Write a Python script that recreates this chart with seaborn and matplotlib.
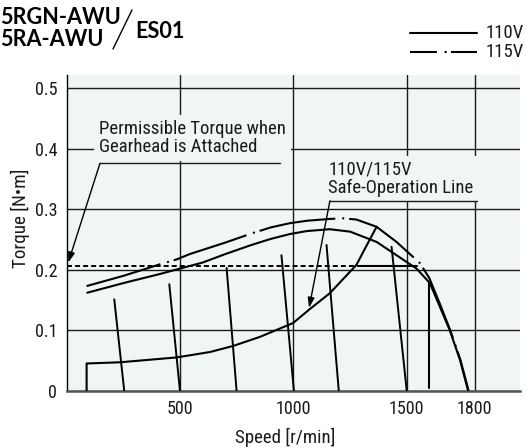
import matplotlib
matplotlib.use("Agg")
import matplotlib.pyplot as plt
import seaborn as sns
import pandas as pd
from matplotlib.lines import Line2D
from matplotlib import font_manager

# ---- data ----
speed_110 = [90, 250, 411, 500, 600, 700, 815, 900, 984, 1060, 1160, 1250, 1367, 1455, 1543, 1602, 1646, 1690, 1735, 1771]
torque_110 = [0.162, 0.178, 0.193, 0.202, 0.212, 0.226, 0.241, 0.251, 0.259, 0.264, 0.267, 0.263, 0.246, 0.224, 0.202, 0.178, 0.139, 0.100, 0.051, 0.0]

speed_115 = [87, 250, 411, 484, 543, 700, 815, 900, 984, 1060, 1160, 1219, 1278, 1367, 1455, 1558, 1600, 1648, 1692, 1737, 1773]
torque_115 = [0.173, 0.190, 0.209, 0.217, 0.226, 0.245, 0.260, 0.270, 0.277, 0.281, 0.284, 0.285, 0.283, 0.271, 0.246, 0.211, 0.186, 0.142, 0.100, 0.051, 0.0]

safe_speed = [87, 87, 235, 484, 632, 734, 852, 999, 1069, 1160, 1278, 1320, 1367]
safe_torque = [0.0, 0.045, 0.047, 0.055, 0.064, 0.074, 0.089, 0.112, 0.134, 0.161, 0.208, 0.238, 0.271]
safe_flat_speed = [1283, 1545]
safe_cut_speed = [1597, 1597]
safe_cut_torque = [0.004, 0.180]

permissible_torque = 0.206
permissible_speed = [0, 1283]

load_top_speed = [209, 452, 705, 947, 1146, 1433]
load_top_torque = [0.151, 0.176, 0.203, 0.224, 0.241, 0.238]
load_bot_speed = [253, 499, 749, 1002, 1200, 1500]

x_ticks = [500, 1000, 1500, 1800]
x_tick_labels = ["500", "1000", "1500", "1800"]
y_ticks = [0, 0.1, 0.2, 0.3, 0.4, 0.5]
y_tick_labels = ["0", "0.1", "0.2", "0.3", "0.4", "0.5"]

# ---- style ----
sns.set_theme(style="white")
avail = {(f.name, str(f.stretch)) for f in font_manager.fontManager.ttflist}
names = {n for n, s in avail}
STRETCH = "normal"
if "Liberation Sans Narrow" in names:
    FAM = ["Liberation Sans Narrow", "DejaVu Sans"]
elif "Roboto Condensed" in names:
    FAM = ["Roboto Condensed", "DejaVu Sans"]
elif any(n == "DejaVu Sans" and s in ("condensed", "semi-condensed") for n, s in avail):
    FAM = ["DejaVu Sans"]
    STRETCH = "condensed"
else:
    FAM = ["Liberation Sans", "DejaVu Sans"]
plt.rcParams["font.family"] = FAM
plt.rcParams["font.stretch"] = STRETCH
plt.rcParams["lines.scale_dashes"] = False

BG = "#f0f6f4"
DASHDOT = (0, (55.4, 5.0, 1.4, 3.6))

W, H = 525, 448
fig = plt.figure(figsize=(W / 100, H / 100), dpi=100)
renderer = fig.canvas.get_renderer()


def text_width(s, size, **kw):
    t = fig.text(0, 0, s, fontsize=size, **kw)
    w = t.get_window_extent(renderer).width
    t.remove()
    return w


FS = 10 * 186 / text_width("Permissible Torque when", 10)
FS_TICK = 10 * 35 / text_width("1000", 10)
FS_LAB = 10 * 100 / text_width("Speed [r/min]", 10)
FS_YLAB = 10 * 100 / text_width("Torque [N•m]", 10)
tfont = dict(family=["Lato", "DejaVu Sans"], weight="bold", color="black")
TFS = 10 * 121 / text_width("5RGN-AWU", 10, **tfont)

x0, x1, ytop, ybot = 66.9, 520, 75, 390.7
ax = fig.add_axes([x0 / W, 1 - ybot / H, (x1 - x0) / W, (ybot - ytop) / H])
ax.set_facecolor(BG)
ax.set_xlim(0, 2000)
ax.set_ylim(0, 0.522)

lw = 1.5
df110 = pd.DataFrame({"speed": speed_110, "torque": torque_110})
df115 = pd.DataFrame({"speed": speed_115, "torque": torque_115})
dfsafe = pd.DataFrame({"speed": safe_speed, "torque": safe_torque})

sns.lineplot(data=df110, x="speed", y="torque", ax=ax, color="black", lw=lw, sort=False, estimator=None, zorder=4)
sns.lineplot(data=df115, x="speed", y="torque", ax=ax, color="black", lw=lw, sort=False, estimator=None,
             linestyle=DASHDOT, zorder=4)
sns.lineplot(data=dfsafe, x="speed", y="torque", ax=ax, color="black", lw=lw, sort=False, estimator=None, zorder=4)
ax.plot(safe_flat_speed, [permissible_torque] * 2, color="black", lw=lw, zorder=4)
ax.plot(safe_cut_speed, safe_cut_torque, color="black", lw=lw, zorder=4)
ax.plot(permissible_speed, [permissible_torque] * 2, color="black", lw=1.4,
        linestyle=(0, (3.6, 2.2)), zorder=4)

for ts, tt, bs in zip(load_top_speed, load_top_torque, load_bot_speed):
    ax.plot([ts, bs], [tt, 0], color="black", lw=1.4, zorder=4)

# grid / axes
ax.set_xticks(x_ticks)
ax.set_xticklabels(x_tick_labels)
ax.set_yticks(y_ticks)
ax.set_yticklabels(y_tick_labels)
ax.grid(True, color="#1a1a1a", lw=1.0)
ax.set_axisbelow(True)
ax.tick_params(length=0, labelsize=FS_TICK, colors="#1a1a1a", pad=7)
for s in ["top", "right"]:
    ax.spines[s].set_visible(False)
ax.spines["left"].set_color("black")
ax.spines["left"].set_linewidth(1.0)
ax.spines["bottom"].set_color("#555555")
ax.spines["bottom"].set_linewidth(1.8)

ax.set_xlabel("Speed [r/min]", fontsize=FS_LAB, color="#1a1a1a", va="center")
ax.xaxis.set_label_coords(0.481, -0.147)
ax.set_ylabel("Torque [N•m]", fontsize=FS_YLAB, color="#1a1a1a", va="center")
ax.yaxis.set_label_coords(-0.1035, 0.546)

# annotations
box = dict(boxstyle="square,pad=0.25", fc=BG, ec="none")
ax.text(142, 0.418, "Permissible Torque when\nGearhead is Attached", fontsize=FS, ha="left", va="center",
        linespacing=1.05, color="#1a1a1a", bbox=box, zorder=3)
ax.plot([146, 941], [0.376, 0.376], color="#1a1a1a", lw=1.0, zorder=3)
ax.annotate("", xy=(6, 0.212), xytext=(146, 0.376),
            arrowprops=dict(arrowstyle="-|>,head_length=0.6,head_width=0.2", lw=1.0, color="black",
                            mutation_scale=10, shrinkA=0, shrinkB=0), zorder=5)

ax.text(1153, 0.350, "110V/115V\nSafe-Operation Line", fontsize=FS, ha="left", va="center",
        linespacing=1.05, color="#1a1a1a", bbox=box, zorder=3)
ax.plot([1161, 1810], [0.314, 0.314], color="#1a1a1a", lw=1.0, zorder=3)
ax.annotate("", xy=(1069, 0.137), xytext=(1161, 0.314),
            arrowprops=dict(arrowstyle="-|>,head_length=0.6,head_width=0.2", lw=1.0, color="black",
                            mutation_scale=10, shrinkA=0, shrinkB=0), zorder=5)

# title
fig.text(0 / W, 1 - 17.5 / H, "5RGN-AWU", ha="left", va="center", fontsize=TFS, **tfont)
fig.text(0 / W, 1 - 40 / H, "5RA-AWU", ha="left", va="center", fontsize=TFS, **tfont)
fig.text(135 / W, 1 - 32 / H, "ES01", ha="left", va="center", fontsize=TFS, **tfont)
fig.add_artist(Line2D([113 / W, 132 / W], [1 - 49 / H, 1 - 10 / H], color="black", lw=1.0))

# legend
fig.add_artist(Line2D([410 / W, 477 / W], [1 - 33.3 / H] * 2, color="black", lw=lw))
fig.add_artist(Line2D([410 / W, 477 / W], [1 - 51.7 / H] * 2, color="black", lw=lw,
                      linestyle=(0, (19.4, 5.5, 1.5, 3.1))))
fig.text(486 / W, 1 - 33.3 / H, "110V", ha="left", va="center", fontsize=FS, color="#1a1a1a")
fig.text(486 / W, 1 - 51.7 / H, "115V", ha="left", va="center", fontsize=FS, color="#1a1a1a")

fig.savefig("out.png", dpi=100)
